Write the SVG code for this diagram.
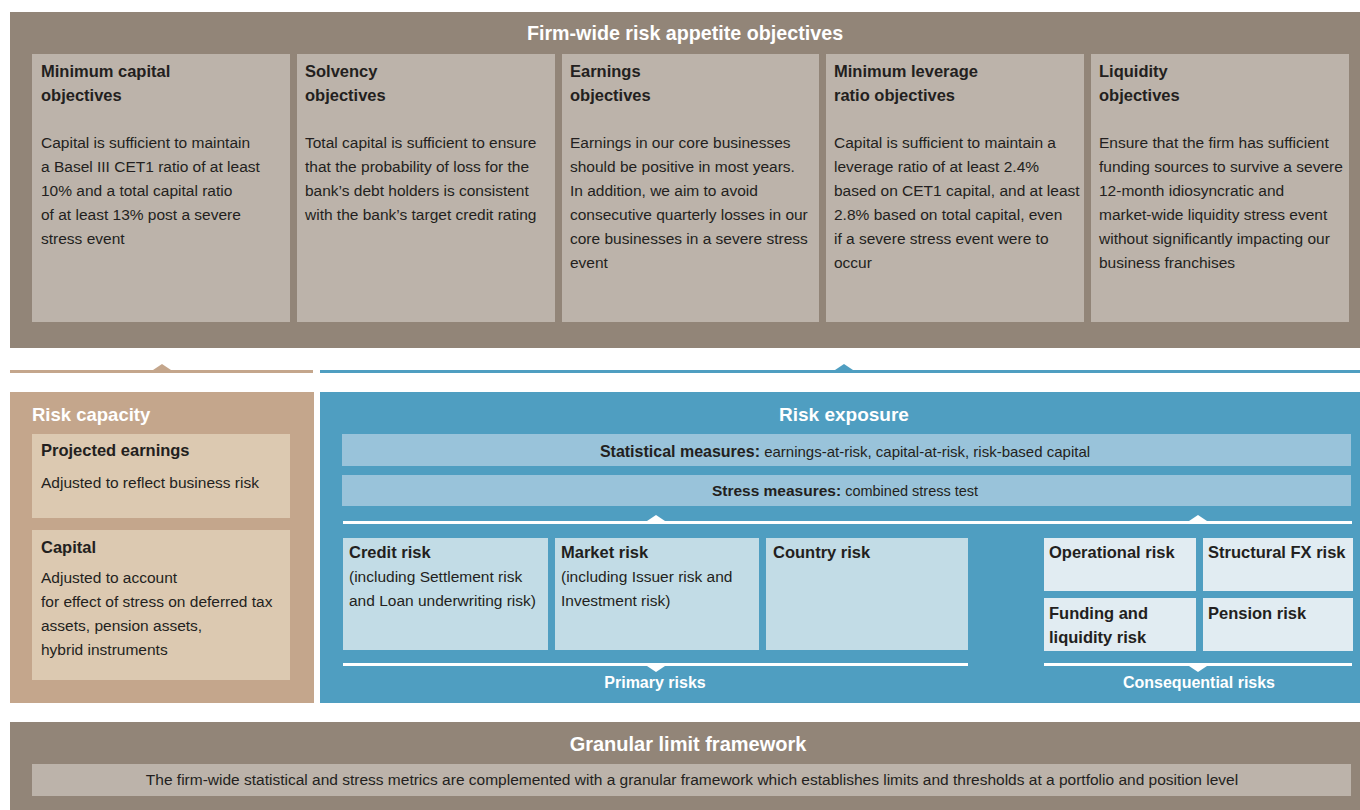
<svg xmlns="http://www.w3.org/2000/svg" width="1360" height="810" viewBox="0 0 1360 810">
<style>
text{font-family:"Liberation Sans",Arial,sans-serif;fill:#231f20}
.t{font-size:15.5px}
.h{font-size:16.5px;font-weight:bold}
.w{fill:#ffffff;font-weight:bold}
.band{fill:#928578}
.obj{fill:#bcb3aa}
.cap{fill:#c4a68c}
.capbox{fill:#dcc9b1}
.exp{fill:#4f9ec1}
.bar{fill:#99c3da}
.prim{fill:#c2dce6}
.cons{fill:#e1ecf2}
.c{text-anchor:middle}
.wl{fill:#ffffff}
</style>
<rect width="1360" height="810" fill="#ffffff"/>

<g id="risk-appetite">
<rect class="band" x="10" y="12" width="1350" height="336"/>
<text class="w c" x="685" y="40" font-size="19.7">Firm-wide risk appetite objectives</text>
</g>

<g id="obj-min-capital">
<rect class="obj" x="32" y="54" width="258" height="268"/>
<text class="h" x="41" y="77">Minimum capital</text>
<text class="h" x="41" y="101">objectives</text>
<text class="t" x="41" y="148">Capital is sufficient to maintain</text>
<text class="t" x="41" y="172">a Basel III CET1 ratio of at least</text>
<text class="t" x="41" y="196">10% and a total capital ratio</text>
<text class="t" x="41" y="220">of at least 13% post a severe</text>
<text class="t" x="41" y="244">stress event</text>
</g>

<g id="obj-solvency">
<rect class="obj" x="297" y="54" width="258" height="268"/>
<text class="h" x="305" y="77">Solvency</text>
<text class="h" x="305" y="101">objectives</text>
<text class="t" x="305" y="148">Total capital is sufficient to ensure</text>
<text class="t" x="305" y="172">that the probability of loss for the</text>
<text class="t" x="305" y="196">bank’s debt holders is consistent</text>
<text class="t" x="305" y="220">with the bank’s target credit rating</text>
</g>

<g id="obj-earnings">
<rect class="obj" x="562" y="54" width="257" height="268"/>
<text class="h" x="570" y="77">Earnings</text>
<text class="h" x="570" y="101">objectives</text>
<text class="t" x="570" y="148">Earnings in our core businesses</text>
<text class="t" x="570" y="172">should be positive in most years.</text>
<text class="t" x="570" y="196">In addition, we aim to avoid</text>
<text class="t" x="570" y="220">consecutive quarterly losses in our</text>
<text class="t" x="570" y="244">core businesses in a severe stress</text>
<text class="t" x="570" y="268">event</text>
</g>

<g id="obj-leverage">
<rect class="obj" x="826" y="54" width="258" height="268"/>
<text class="h" x="834" y="77">Minimum leverage</text>
<text class="h" x="834" y="101">ratio objectives</text>
<text class="t" x="834" y="148">Capital is sufficient to maintain a</text>
<text class="t" x="834" y="172">leverage ratio of at least 2.4%</text>
<text class="t" x="834" y="196">based on CET1 capital, and at least</text>
<text class="t" x="834" y="220">2.8% based on total capital, even</text>
<text class="t" x="834" y="244">if a severe stress event were to</text>
<text class="t" x="834" y="268">occur</text>
</g>

<g id="obj-liquidity">
<rect class="obj" x="1091" y="54" width="258" height="268"/>
<text class="h" x="1099" y="77">Liquidity</text>
<text class="h" x="1099" y="101">objectives</text>
<text class="t" x="1099" y="148">Ensure that the firm has sufficient</text>
<text class="t" x="1099" y="172">funding sources to survive a severe</text>
<text class="t" x="1099" y="196">12-month idiosyncratic and</text>
<text class="t" x="1099" y="220">market-wide liquidity stress event</text>
<text class="t" x="1099" y="244">without significantly impacting our</text>
<text class="t" x="1099" y="268">business franchises</text>
</g>

<g id="risk-capacity">
<rect class="cap" x="10" y="392" width="304" height="311"/>
<text class="w" x="32" y="421" font-size="18.5">Risk capacity</text>
</g>

<g id="projected-earnings">
<rect class="capbox" x="32" y="434" width="258" height="84"/>
<text class="h" x="41" y="456">Projected earnings</text>
<text class="t" x="41" y="488">Adjusted to reflect business risk</text>
</g>

<g id="capital">
<rect class="capbox" x="32" y="530" width="258" height="150"/>
<text class="h" x="41" y="553">Capital</text>
<text class="t" x="41" y="583">Adjusted to account</text>
<text class="t" x="41" y="607">for effect of stress on deferred tax</text>
<text class="t" x="41" y="631">assets, pension assets,</text>
<text class="t" x="41" y="655">hybrid instruments</text>
</g>

<g id="risk-exposure">
<rect class="exp" x="320" y="392" width="1040" height="311"/>
<text class="w c" x="844" y="421" font-size="19">Risk exposure</text>
</g>

<g id="statistical-measures">
<rect class="bar" x="342" y="434" width="1009" height="32"/>
<text class="c" x="845" y="457" font-size="15"><tspan font-weight="bold" font-size="16">Statistical measures:</tspan> earnings-at-risk, capital-at-risk, risk-based capital</text>
</g>

<g id="stress-measures">
<rect class="bar" x="342" y="475" width="1009" height="31"/>
<text class="c" x="845" y="496" font-size="14.5"><tspan font-weight="bold" font-size="15.5">Stress measures:</tspan> combined stress test</text>
</g>

<g id="credit-risk">
<rect class="prim" x="343" y="538" width="205" height="112"/>
<text class="h" x="349" y="558">Credit risk</text>
<text class="t" x="349" y="582">(including Settlement risk</text>
<text class="t" x="349" y="606">and Loan underwriting risk)</text>
</g>

<g id="market-risk">
<rect class="prim" x="555" y="538" width="204" height="112"/>
<text class="h" x="561" y="558">Market risk</text>
<text class="t" x="561" y="582">(including Issuer risk and</text>
<text class="t" x="561" y="606">Investment risk)</text>
</g>

<g id="country-risk">
<rect class="prim" x="766" y="538" width="202" height="112"/>
<text class="h" x="773" y="558">Country risk</text>
</g>

<g id="primary-risks-label">
<text class="w c" x="655" y="688" font-size="16">Primary risks</text>
</g>

<g id="operational-risk">
<rect class="cons" x="1044" y="538" width="152" height="53"/>
<text class="h" x="1049" y="558">Operational risk</text>
</g>

<g id="structural-fx-risk">
<rect class="cons" x="1203" y="538" width="150" height="53"/>
<text class="h" x="1208" y="558">Structural FX risk</text>
</g>

<g id="funding-liquidity-risk">
<rect class="cons" x="1044" y="598" width="152" height="53"/>
<text class="h" x="1049" y="619">Funding and</text>
<text class="h" x="1049" y="643">liquidity risk</text>
</g>

<g id="pension-risk">
<rect class="cons" x="1203" y="598" width="150" height="53"/>
<text class="h" x="1208" y="619">Pension risk</text>
</g>

<g id="consequential-risks-label">
<text class="w c" x="1199" y="688" font-size="16">Consequential risks</text>
</g>

<g id="granular-limit">
<rect class="band" x="10" y="722" width="1350" height="88"/>
<text class="w c" x="688" y="751" font-size="20">Granular limit framework</text>
<rect class="obj" x="32" y="764" width="1319" height="32"/>
<text class="t c" x="692" y="785">The firm-wide statistical and stress metrics are complemented with a granular framework which establishes limits and thresholds at a portfolio and position level</text>
</g>

<g id="connectors">
<rect x="10" y="370" width="303" height="3" fill="#c4a68c"/>
<polygon points="153,370 171,370 162,364" fill="#c4a68c"/>
<rect x="320" y="370" width="1040" height="3" fill="#4f9ec1"/>
<polygon points="835,370 853,370 844,364" fill="#4f9ec1"/>
<rect class="wl" x="343" y="521" width="1009" height="3"/>
<polygon class="wl" points="647,521 665,521 656,515"/>
<polygon class="wl" points="1189,521 1207,521 1198,515"/>
<rect class="wl" x="343" y="663" width="625" height="3"/>
<polygon class="wl" points="647,666 665,666 656,672"/>
<rect class="wl" x="1044" y="663" width="308" height="3"/>
<polygon class="wl" points="1189,666 1207,666 1198,672"/>
</g>
</svg>
